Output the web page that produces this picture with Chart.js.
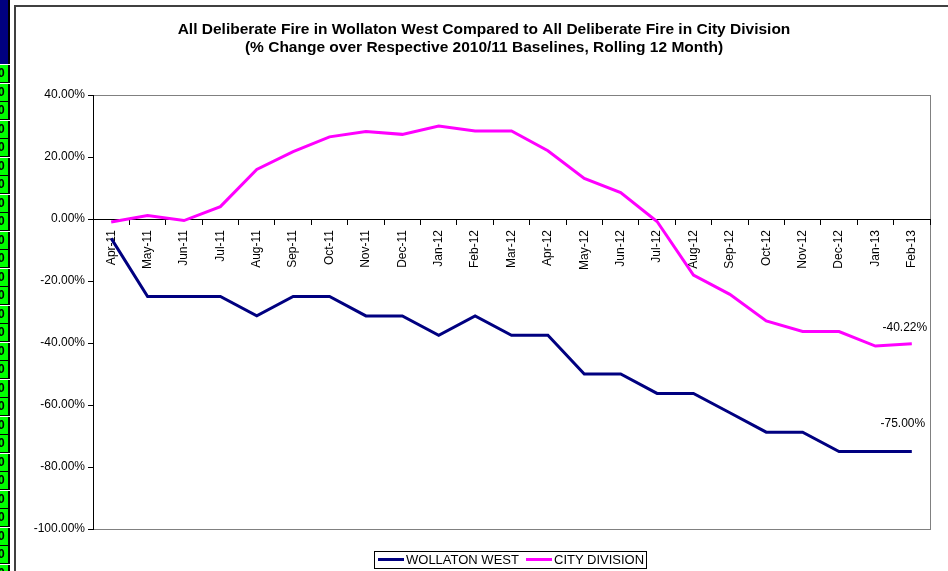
<!DOCTYPE html>
<html><head><meta charset="utf-8">
<script src="https://cdn.jsdelivr.net/npm/chart.js@4.4.0/dist/chart.umd.min.js"></script>
<style>
html,body{margin:0;padding:0;background:#fff;}
#wrap{position:relative;width:948px;height:571px;overflow:hidden;background:#fff;}
#c{position:absolute;left:0;top:0;}
.navy{position:absolute;left:0;top:0;width:8px;height:64px;background:#000080;border-right:2px solid #000;}
.cell{position:absolute;left:0;width:8px;height:17px;background:#00ff00;border-right:2px solid #000;border-bottom:1px solid #000;overflow:hidden;}
.cell span{position:absolute;left:-2px;top:1px;font:bold 12px 'Liberation Sans',Arial,sans-serif;color:#000;}
.frameL{position:absolute;left:14px;top:5px;width:2px;height:566px;background:#404040;}
.frameT{position:absolute;left:14px;top:5px;width:934px;height:2px;background:#404040;}
#legend{position:absolute;left:374px;top:551px;width:273px;height:18px;border:1px solid #000;box-sizing:border-box;font:13px 'Liberation Sans',Arial,sans-serif;color:#000;white-space:nowrap;line-height:16px;}
#legend .it{position:absolute;top:0;}
#legend .ln{display:inline-block;width:26px;height:3px;vertical-align:middle;margin-right:2px;position:relative;top:-1px;}
</style>
</head><body>
<div id="wrap">
  <canvas id="c" width="948" height="571"></canvas>
  <div class="navy"></div>
  <div id="cells"></div>
  <div class="frameL"></div>
  <div class="frameT"></div>
  <div id="legend"></div>
</div>
<script>
const months = ['Apr-11','May-11','Jun-11','Jul-11','Aug-11','Sep-11','Oct-11','Nov-11','Dec-11','Jan-12','Feb-12','Mar-12','Apr-12','May-12','Jun-12','Jul-12','Aug-12','Sep-12','Oct-12','Nov-12','Dec-12','Jan-13','Feb-13'];
const wollatonWest = [-6.25,-25,-25,-25,-31.25,-25,-25,-31.25,-31.25,-37.5,-31.25,-37.5,-37.5,-50,-50,-56.25,-56.25,-62.5,-68.75,-68.75,-75,-75,-75];
const cityDivision = [-1.0,1.1,-0.5,4.0,16.0,21.7,26.5,28.2,27.3,30.0,28.4,28.4,22.0,13.1,8.5,-0.8,-18.1,-24.3,-32.9,-36.3,-36.3,-41.0,-40.22];
const yTickValues = [40,20,0,-20,-40,-60,-80,-100];
const seriesNames = ['WOLLATON WEST','CITY DIVISION'];
const seriesColors = ['#000080','#ff00ff'];
const titleLines = ['All Deliberate Fire in Wollaton West Compared to All Deliberate Fire in City Division','(% Change over Respective 2010/11 Baselines, Rolling 12 Month)'];

const FONT = "'Liberation Sans', Arial, sans-serif";

// left decoration strip
(function(){
  const cells = document.getElementById('cells');
  for (let i = 0; i < 28; i++) {
    const d = document.createElement('div');
    d.className = 'cell';
    d.style.top = (65 + i * 18.5) + 'px';
    d.innerHTML = '<span>0</span>';
    cells.appendChild(d);
  }
})();

// legend
(function(){
  const lg = document.getElementById('legend');
  const lefts = [3, 151];
  seriesNames.forEach((n, i) => {
    const it = document.createElement('div');
    it.className = 'it';
    it.style.left = lefts[i] + 'px';
    it.innerHTML = '<span class="ln" style="background:' + seriesColors[i] + '"></span>' + n;
    lg.appendChild(it);
  });
})();

const plotBorder = {
  id: 'plotBorder',
  beforeDraw(chart) {
    const {ctx, chartArea: a} = chart;
    ctx.save();
    ctx.strokeStyle = '#808080';
    ctx.lineWidth = 1;
    ctx.strokeRect(a.left + 0.5, a.top + 0.5, a.right - a.left, a.bottom - a.top);
    ctx.restore();
  }
};

const chartTitle = {
  id: 'chartTitle',
  afterDraw(chart) {
    const ctx = chart.ctx;
    ctx.save();
    ctx.font = 'bold 15.5px ' + FONT;
    ctx.fillStyle = '#000';
    ctx.textAlign = 'center';
    ctx.textBaseline = 'middle';
    titleLines.forEach((t, i) => ctx.fillText(t, 484, 30 + i * 18));
    ctx.restore();
  }
};

const labelOffsets = [{dx: -9, dy: -28}, {dx: -7, dy: -16}];
const endLabels = {
  id: 'endLabels',
  afterDatasetsDraw(chart) {
    const ctx = chart.ctx;
    ctx.save();
    ctx.font = '12px ' + FONT;
    ctx.fillStyle = '#000';
    ctx.textAlign = 'center';
    ctx.textBaseline = 'middle';
    chart.data.datasets.forEach((ds, i) => {
      const meta = chart.getDatasetMeta(i);
      const pt = meta.data[meta.data.length - 1];
      const v = ds.data[ds.data.length - 1];
      ctx.fillText(v.toFixed(2) + '%', pt.x + labelOffsets[i].dx, pt.y + labelOffsets[i].dy);
    });
    ctx.restore();
  }
};

new Chart(document.getElementById('c'), {
  type: 'line',
  data: {
    labels: months,
    datasets: [
      {label: seriesNames[0], data: wollatonWest, borderColor: seriesColors[0], backgroundColor: seriesColors[0], borderWidth: 3, pointRadius: 0, tension: 0, fill: false},
      {label: seriesNames[1], data: cityDivision, borderColor: seriesColors[1], backgroundColor: seriesColors[1], borderWidth: 3, pointRadius: 0, tension: 0, fill: false}
    ]
  },
  options: {
    responsive: false,
    animation: false,
    devicePixelRatio: 1,
    layout: {padding: {left: 20, right: 18, top: 95, bottom: 42}},
    plugins: {
      legend: {display: false},
      tooltip: {enabled: false},
      title: {display: false}
    },
    scales: {
      x: {
        type: 'category',
        offset: true,
        position: {y: 0},
        grid: {display: true, drawOnChartArea: false, drawTicks: true, tickLength: 5, color: '#000', offset: true},
        border: {display: true, color: '#000', width: 1},
        ticks: {minRotation: 90, maxRotation: 90, autoSkip: false, padding: 6, color: '#000', font: {family: FONT, size: 12}},
        afterFit: s => { s.height = 0; }
      },
      y: {
        min: -100, max: 40,
        grid: {drawOnChartArea: false, drawTicks: true, tickLength: 5, color: '#000'},
        border: {display: true, color: '#000', width: 1},
        ticks: {padding: 3, color: '#000', font: {family: FONT, size: 12}, callback: v => Number(v).toFixed(2) + '%'},
        afterBuildTicks: s => { s.ticks = yTickValues.map(v => ({value: v})); },
        afterFit: s => { s.width = 73; }
      }
    }
  },
  plugins: [plotBorder, endLabels, chartTitle]
});
</script>
</body></html>
